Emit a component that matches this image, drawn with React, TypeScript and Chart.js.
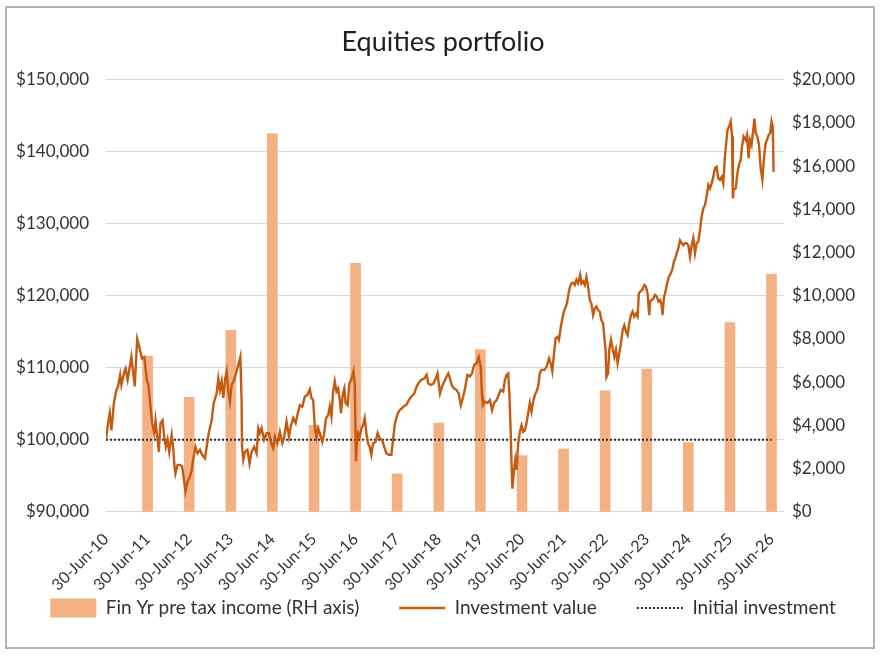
import { useEffect, useRef } from "react"
import { Chart, registerables, type ChartConfiguration, type Plugin } from "chart.js"

Chart.register(...registerables)
Chart.defaults.font.family = "Lato, 'Open Sans', sans-serif"
Chart.defaults.color = "#333333"

// x axis: years since 30-Jun-10
const tickLabels = [
  "30-Jun-10", "30-Jun-11", "30-Jun-12", "30-Jun-13", "30-Jun-14", "30-Jun-15", "30-Jun-16", "30-Jun-17", "30-Jun-18",
  "30-Jun-19", "30-Jun-20", "30-Jun-21", "30-Jun-22", "30-Jun-23", "30-Jun-24", "30-Jun-25", "30-Jun-26",
]

// Fin Yr pre tax income, one bar per 30 June
const incomeYears = [1, 2, 3, 4, 5, 6, 7, 8, 9, 10, 11, 12, 13, 14, 15, 16]
const incomeValues = [7200, 5300, 8400, 17500, 4000, 11500, 1750, 4100, 7500, 2600, 2900, 5600, 6600, 3200, 8750, 11000]

const initialInvestment = 100000

// Investment value
const valueTimes = [
  0.0, 0.05, 0.09, 0.13, 0.19, 0.25, 0.29, 0.34, 0.37, 0.44, 0.47, 0.52, 0.58, 0.61, 0.65, 0.69, 0.75, 0.8, 0.86, 0.92, 0.98,
  1.02, 1.07, 1.11, 1.16, 1.19, 1.24, 1.27, 1.31, 1.36, 1.4, 1.44, 1.48, 1.52, 1.58, 1.62, 1.64, 1.67, 1.72, 1.78, 1.83, 1.88, 1.91, 1.96,
  2.02, 2.06, 2.1, 2.15, 2.2, 2.26, 2.31, 2.38, 2.42, 2.47, 2.54, 2.59, 2.66, 2.7, 2.74, 2.78, 2.82, 2.86, 2.9, 2.94, 2.98,
  3.02, 3.08, 3.14, 3.19, 3.23, 3.26, 3.27, 3.3, 3.34, 3.4, 3.45, 3.5, 3.56, 3.62, 3.66, 3.7, 3.74, 3.8, 3.86, 3.92, 3.96,
  4.02, 4.06, 4.12, 4.18, 4.24, 4.28, 4.34, 4.4, 4.44, 4.5, 4.56, 4.6, 4.66, 4.72, 4.78, 4.84, 4.9, 4.94, 4.98,
  5.02, 5.06, 5.1, 5.14, 5.2, 5.24, 5.29, 5.34, 5.38, 5.42, 5.46, 5.5, 5.54, 5.58, 5.62, 5.65, 5.69, 5.73, 5.76, 5.81, 5.85, 5.89, 5.92, 5.95, 5.98,
  6.01, 6.03, 6.06, 6.1, 6.14, 6.18, 6.22, 6.26, 6.3, 6.34, 6.38, 6.42, 6.48, 6.53, 6.58, 6.64, 6.69, 6.74, 6.8, 6.86, 6.9, 6.94, 6.98,
  7.02, 7.06, 7.12, 7.17, 7.22, 7.28, 7.34, 7.41, 7.47, 7.52, 7.58, 7.65, 7.71, 7.75, 7.81, 7.87, 7.92, 7.97,
  8.0, 8.03, 8.08, 8.15, 8.19, 8.23, 8.27, 8.31, 8.37, 8.43, 8.48, 8.53, 8.59, 8.64, 8.69, 8.75, 8.8, 8.85, 8.91, 8.96,
  9.01, 9.04, 9.06, 9.11, 9.17, 9.23, 9.28, 9.33, 9.39, 9.44, 9.49, 9.55, 9.59, 9.63, 9.67, 9.7, 9.73, 9.75, 9.77, 9.81, 9.84, 9.87, 9.91, 9.95, 9.99,
  10.03, 10.07, 10.11, 10.15, 10.19, 10.23, 10.27, 10.31, 10.35, 10.39, 10.43, 10.47, 10.54, 10.59, 10.65, 10.7, 10.73, 10.78, 10.81, 10.86, 10.89, 10.94,
  11.0, 11.04, 11.08, 11.12, 11.16, 11.19, 11.23, 11.27, 11.31, 11.35, 11.4, 11.43, 11.47, 11.51, 11.55, 11.59, 11.63, 11.67, 11.71, 11.75, 11.79, 11.83, 11.87, 11.91, 11.95, 11.98,
  12.01, 12.03, 12.07, 12.1, 12.14, 12.18, 12.22, 12.26, 12.3, 12.34, 12.38, 12.42, 12.46, 12.5, 12.54, 12.58, 12.62, 12.66, 12.7, 12.74, 12.78, 12.81, 12.85, 12.89, 12.94, 12.98,
  13.02, 13.06, 13.08, 13.12, 13.16, 13.2, 13.24, 13.28, 13.32, 13.36, 13.38, 13.41, 13.45, 13.49, 13.53, 13.58, 13.62, 13.66, 13.68, 13.72, 13.76, 13.8, 13.84, 13.88, 13.92, 13.96,
  14.0, 14.04, 14.08, 14.12, 14.16, 14.2, 14.24, 14.28, 14.32, 14.36, 14.4, 14.44, 14.48, 14.52, 14.56, 14.6, 14.64, 14.68, 14.72, 14.76, 14.8, 14.84, 14.88, 14.91, 14.94, 14.98,
  15.02, 15.05, 15.07, 15.09, 15.14, 15.18, 15.22, 15.26, 15.29, 15.33, 15.38, 15.41, 15.45, 15.48, 15.52, 15.56, 15.59, 15.62, 15.66, 15.7, 15.74, 15.78, 15.82, 15.86, 15.89, 15.93, 15.97, 16.0, 16.03, 16.05,
]
const portfolioValues = [
  100000, 102300, 103700, 101300, 105100, 106900, 107400, 109000, 107600, 109500, 109900, 108300, 110400, 111500, 109500, 107400, 114000, 112900, 111300, 111500, 108300,
  107600, 104600, 102300, 100900, 102700, 100000, 98300, 102300, 102700, 100400, 99000, 100000, 98300, 100700, 98600, 96700, 95300, 96500, 96500, 96300, 94200, 92800, 94200,
  94900, 95800, 97400, 99000, 98100, 98600, 97900, 97400, 99000, 100900, 102700, 105100, 106400, 108500, 106900, 108100, 105800, 108300, 109500, 106700, 105300,
  107600, 108300, 109500, 110600, 111500, 105500, 99000, 97200, 98300, 98600, 96700, 98300, 99000, 98100, 101600, 100900, 101600, 100000, 100900, 100900, 99700,
  98800, 100400, 99500, 101100, 99500, 100200, 102500, 100400, 101800, 103000, 102300, 103400, 104800, 104600, 106000, 106200, 107000, 105800, 105500,
  101800, 100400, 101600, 100900, 99700, 100700, 103000, 103400, 104600, 103200, 106700, 108100, 106700, 107100, 105500, 103700, 106200, 107100, 105100, 104800, 107800, 108300, 108800, 109500, 107800,
  97000, 99500, 100900, 100400, 101600, 102000, 103000, 100900, 99500, 99000, 97900, 99500, 99700, 100900, 100200, 99900, 99000, 98100, 97900, 97900, 99900, 102000, 103000,
  103700, 104100, 104400, 104700, 104800, 105500, 106000, 106400, 107400, 107900, 108300, 108500, 109000, 107800, 107600, 107800, 108400, 109200,
  107800, 106400, 107400, 108300, 108800, 109200, 108500, 107600, 107100, 106900, 106400, 104800, 106000, 107400, 109000, 108800, 109200, 110400, 110600, 111500,
  110100, 106000, 104800, 105300, 105100, 105500, 104100, 105100, 105500, 106200, 106900, 106700, 108300, 109000, 109200, 106000, 100900, 96700, 93200, 95800, 97200, 95800, 99500, 101100, 102000,
  101100, 101300, 102300, 103700, 105100, 103900, 105300, 106200, 106700, 107400, 109200, 109700, 109700, 110100, 111300, 110400, 109500, 112500, 114100, 114300, 113900, 115900,
  117600, 118300, 118900, 120300, 121300, 121700, 121800, 121500, 122200, 121700, 122900, 121700, 122000, 121500, 122600, 121300, 119400, 118900, 117300, 118200, 118500, 118000, 117800, 116600, 116200, 114300,
  112500, 108700, 109200, 112500, 113900, 112700, 111500, 112500, 110600, 112000, 113400, 115200, 115900, 115000, 114500, 116200, 117300, 117800, 117100, 117500, 117100, 120300, 120600, 120800, 121500, 121300,
  120300, 117300, 119200, 119400, 119600, 120100, 119900, 119200, 119400, 118700, 117300, 119600, 120600, 121700, 122600, 123100, 123800, 124900, 125000, 125900, 126600, 127700, 127300, 127000, 127300, 127300,
  127000, 125400, 127000, 128000, 125900, 127300, 127500, 129100, 131000, 132100, 132600, 133800, 135400, 134900, 135600, 136500, 137700, 137900, 136300, 136100, 136500, 135600, 139300, 141200, 143000, 143500,
  144200, 142100, 133500, 134700, 134900, 137000, 138200, 138900, 140700, 142100, 141600, 142300, 139100, 141600, 140900, 143000, 144600, 142600, 142100, 140900, 137700, 136100, 139300, 141200, 141600, 142300, 142600, 144200, 143500, 137200,
]

const money = (v: number | string) => "$" + Number(v).toLocaleString("en-US")

// the x scale clips its labels to its own box; let the rotated dates hang below it
const unclipDates: Plugin = {
  id: "unclipDates",
  afterLayout(chart) {
    const x = chart.scales.x
    if (x) x.bottom = chart.height
  },
}

export default function App() {
  const chartRef = useRef<HTMLCanvasElement>(null)
  const chartInstance = useRef<Chart | null>(null)

  useEffect(() => {
    if (!chartRef.current) return
    if (chartInstance.current) chartInstance.current.destroy()

    const config: ChartConfiguration = {
      type: "bar",
      data: {
        datasets: [
          {
            type: "bar",
            label: "Fin Yr pre tax income (RH axis)",
            data: incomeYears.map((x, i) => ({ x, y: incomeValues[i] })),
            backgroundColor: "#f4b183",
            barThickness: 10,
            yAxisID: "y1",
            order: 3,
          },
          {
            type: "line",
            label: "Investment value",
            data: valueTimes.map((x, i) => ({ x, y: portfolioValues[i] })),
            borderColor: "#c55a11",
            backgroundColor: "#c55a11",
            borderWidth: 2.4,
            pointRadius: 0,
            tension: 0,
            yAxisID: "y",
            order: 1,
          },
          {
            type: "line",
            label: "Initial investment",
            data: [
              { x: 0, y: initialInvestment },
              { x: tickLabels.length - 1, y: initialInvestment },
            ],
            borderColor: "#2b2b2b",
            backgroundColor: "#2b2b2b",
            borderWidth: 2,
            borderDash: [2, 2],
            pointRadius: 0,
            yAxisID: "y",
            order: 2,
          },
        ] as any,
      },
      options: {
        responsive: true,
        maintainAspectRatio: false,
        animation: false,
        layout: { padding: { left: 0, right: 0, top: 0, bottom: 36.5 } },
        scales: {
          x: {
            type: "linear",
            min: 0,
            max: 16.3,
            offset: false,
            grid: { display: false },
            border: { display: false },
            afterBuildTicks: (scale) => {
              scale.ticks = tickLabels.map((_, i) => ({ value: i }))
            },
            afterFit: (scale) => {
              scale.height = 46.8
            },
            ticks: {
              autoSkip: false,
              minRotation: 45,
              maxRotation: 45,
              padding: 10,
              color: "#333333",
              font: { size: 16 },
              callback: (v) => tickLabels[Number(v)] ?? "",
            },
          },
          y: {
            position: "left",
            min: 90000,
            max: 150000,
            grid: { color: "#d9d9d9", lineWidth: 1, drawTicks: false },
            border: { display: false },
            afterFit: (scale) => {
              scale.width = 106
            },
            ticks: {
              stepSize: 10000,
              padding: 17,
              color: "#333333",
              font: { size: 17 },
              callback: (v) => money(v),
            },
          },
          y1: {
            position: "right",
            min: 0,
            max: 20000,
            grid: { display: false, drawTicks: false },
            border: { display: false },
            afterFit: (scale) => {
              scale.width = 102
            },
            ticks: {
              stepSize: 2000,
              padding: 8,
              color: "#333333",
              font: { size: 17 },
              callback: (v) => money(v),
            },
          },
        },
        plugins: {
          title: {
            display: true,
            text: "Equities portfolio",
            color: "#1f1f1f",
            font: { size: 27, weight: "normal" },
            padding: { top: 25.8, bottom: 21.5 },
          },
          legend: {
            display: true,
            position: "bottom",
            labels: {
              usePointStyle: true,
              pointStyleWidth: 46,
              padding: 40,
              color: "#333333",
              font: { size: 19 },
              generateLabels: (chart) =>
                chart.data.datasets.map((ds: any, i: number) => ({
                  text: ds.label,
                  datasetIndex: i,
                  hidden: false,
                  fontColor: "#333333",
                  fillStyle: ds.type === "line" ? "rgba(0,0,0,0)" : ds.backgroundColor,
                  strokeStyle: ds.borderColor ?? ds.backgroundColor,
                  lineWidth: ds.type === "line" ? ds.borderWidth : 0,
                  lineDash: ds.borderDash ?? [],
                  pointStyle: ds.type === "line" ? "line" : "rect",
                })),
            },
          },
          tooltip: { enabled: false },
        },
      },
      plugins: [unclipDates],
    }

    chartInstance.current = new Chart(chartRef.current, config)

    return () => {
      if (chartInstance.current) {
        chartInstance.current.destroy()
        chartInstance.current = null
      }
    }
  }, [])

  return (
    <div style={{ position: "absolute", left: 0, top: 0, width: 886, height: 664, background: "#fff" }}>
      <canvas ref={chartRef}></canvas>
      <div
        style={{
          position: "absolute",
          left: 5,
          top: 6,
          width: 870,
          height: 643,
          border: "2px solid #b5b5b5",
          boxSizing: "border-box",
          pointerEvents: "none",
        }}
      ></div>
    </div>
  )
}
